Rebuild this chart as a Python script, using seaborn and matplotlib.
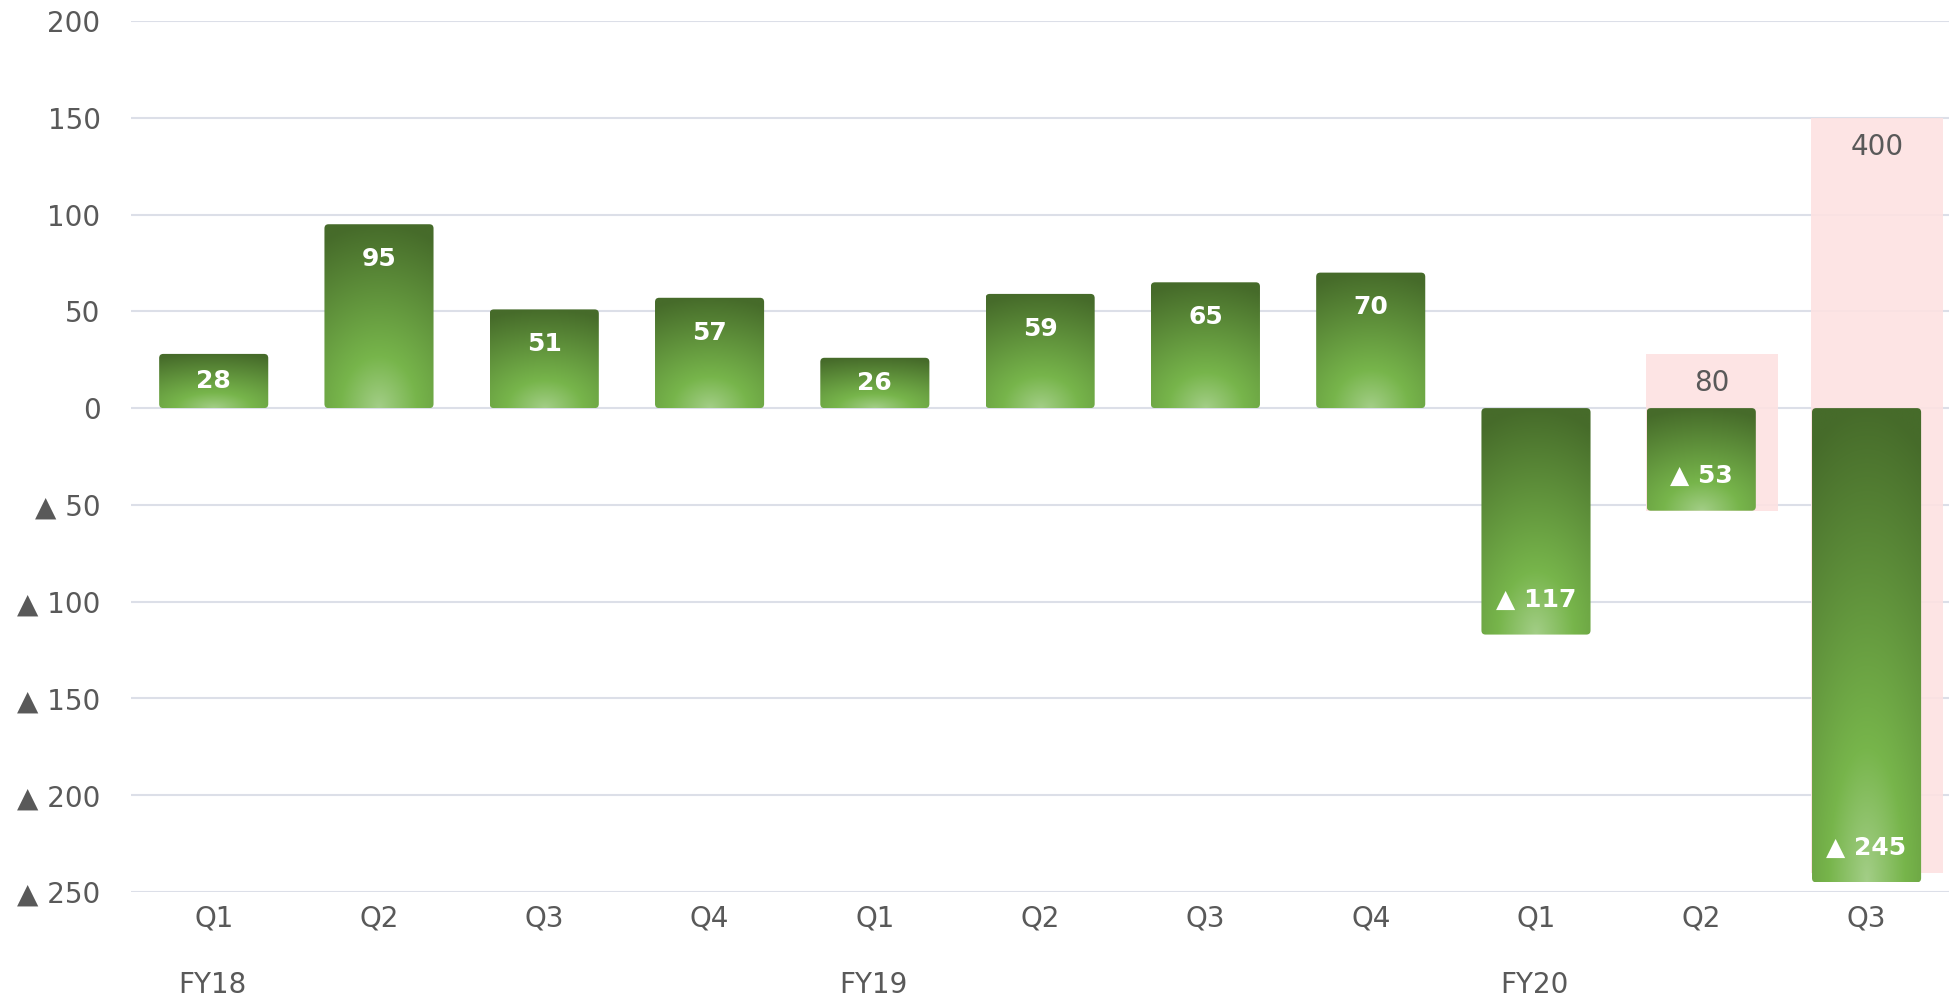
import numpy as np
import pandas as pd
import matplotlib
matplotlib.use("Agg")
import matplotlib.pyplot as plt
import seaborn as sns
from matplotlib.patches import FancyBboxPatch
from matplotlib.colors import to_rgb
import matplotlib.transforms as mtransforms

# data
periods = ["FY18 Q1", "FY18 Q2", "FY18 Q3", "FY18 Q4",
           "FY19 Q1", "FY19 Q2", "FY19 Q3", "FY19 Q4",
           "FY20 Q1", "FY20 Q2", "FY20 Q3"]
quarter_labels = ["Q1", "Q2", "Q3", "Q4", "Q1", "Q2", "Q3", "Q4", "Q1", "Q2", "Q3"]
fy_labels = ["FY18", "FY19", "FY20"]
fy_start_idx = [0, 4, 8]
values = [28, 95, 51, 57, 26, 59, 65, 70, -117, -53, -245]

# pink range boxes (forecast band)
band_idx = [9, 10]
band_top = [28, 150]
band_bottom = [-53, -240]
band_labels = ["80", "400"]

y_ticks = [200, 150, 100, 50, 0, -50, -100, -150, -200, -250]

def fmt(v):
    return f"\u25b2 {abs(v)}" if v < 0 else f"{v}"

df = pd.DataFrame({"period": periods, "value": values})

sns.set_style("white")
plt.rcParams["font.family"] = ["DejaVu Sans"]

fig = plt.figure(figsize=(19.59, 10), dpi=100)
ax = fig.add_axes([0.0669, 0.108, 0.9281, 0.871])

grid_col = "#dcdfe8"
for t in y_ticks:
    ax.axhline(t, color=grid_col, lw=1.5, zorder=0)

# pink bands
band_x = [i + 0.065 for i in band_idx]
ax.bar(band_x, [t - b for t, b in zip(band_top, band_bottom)], bottom=band_bottom,
       width=0.8, color="#fde2e2", alpha=0.9, zorder=1, linewidth=0)
for x, t, lab in zip(band_x, band_top, band_labels):
    ax.text(x, t - 15, lab, ha="center", va="center", fontsize=20, color="#595959", zorder=5)

sns.barplot(data=df, x="period", y="value", color="#6aa33f", width=0.66, ax=ax,
            zorder=2, linewidth=0)

# radial gradient, light at bottom centre
H, W = 300, 100
tt = np.linspace(0, 1, H)[:, None]
ss = np.linspace(-1, 1, W)[None, :]
stops = [0.0, 0.28, 1.0]
cols = [to_rgb("#a3ce87"), to_rgb("#77b54b"), to_rgb("#466b2a")]

def make_grad():
    r = np.sqrt((0.4 * ss) ** 2 + (1 - tt) ** 2)
    r = np.clip(r, 0, 1)
    img = np.zeros((H, W, 3))
    for c in range(3):
        img[..., c] = np.interp(r, stops, [col[c] for col in cols])
    return img

grad = make_grad()
asp = 165.7 / 1.936
for p in list(ax.patches):
    if p.get_zorder() != 2:
        continue
    x0, w = p.get_x(), p.get_width()
    y0, h = p.get_y(), p.get_height()
    ylo, yhi = min(y0, y0 + h), max(y0, y0 + h)
    p.set_visible(False)
    clip = FancyBboxPatch((x0, ylo), w, yhi - ylo,
                          boxstyle="round,pad=0,rounding_size=0.025",
                          mutation_aspect=asp, facecolor="none", edgecolor="none")
    ax.add_patch(clip)
    im = ax.imshow(grad, extent=[x0, x0 + w, ylo, yhi],
                   aspect="auto", origin="upper", zorder=3, interpolation="bilinear")
    im.set_clip_path(clip)

# value labels
for i, v in enumerate(values):
    off = min(18, abs(v) / 2)
    y = v - off if v > 0 else v + off
    ax.text(i, y, fmt(v), ha="center", va="center", fontsize=18, fontweight="bold",
            color="white", zorder=6)

ax.set_xlim(-0.5, 10.5)
ax.set_ylim(-250, 200)
ax.set_yticks(y_ticks)
ax.set_yticklabels([fmt(t) for t in y_ticks], fontsize=20, color="#595959")
ax.set_xticks(range(len(periods)))
ax.set_xticklabels(quarter_labels, fontsize=20, color="#595959")
ax.tick_params(axis="both", length=0)
ax.tick_params(axis="y", pad=22)
ax.tick_params(axis="x", pad=9)
ax.set_xlabel("")
ax.set_ylabel("")
sns.despine(ax=ax, left=True, bottom=True)

trans = mtransforms.blended_transform_factory(ax.transData, fig.transFigure)
for lab, i in zip(fy_labels, fy_start_idx):
    ax.text(i - 0.01, 0.015, lab, transform=trans, ha="center", va="center",
            fontsize=20, color="#595959")

fig.savefig("out.png", dpi=100)
